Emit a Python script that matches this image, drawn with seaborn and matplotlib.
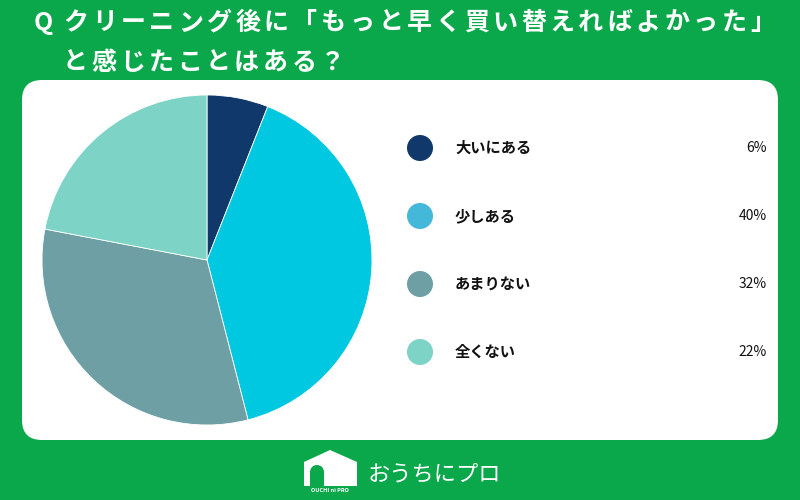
import matplotlib.pyplot as plt
from matplotlib.patches import FancyBboxPatch, Circle, Polygon, Rectangle
import seaborn as sns

# survey answers
labels = ['大いにある', '少しある', 'あまりない', '全くない']
values = [6, 40, 32, 22]
pct_labels = ['6%', '40%', '32%', '22%']
colors = ['#10386a', '#00c8e0', '#6e9fa5', '#7dd3c5']
dot_colors = ['#10386a', '#44b8d8', '#6e9fa5', '#7dd3c5']

title_q = 'Q'
title1 = 'クリーニング後に「もっと早く買い替えればよかった」'
title2 = 'と感じたことはある？'

sns.set_theme(style='white')
plt.rcParams['font.family'] = ['Noto Sans CJK JP', 'DejaVu Sans']

green = '#0aa84a'
fig = plt.figure(figsize=(8, 5), dpi=100, facecolor=green)

# background layer in pixel coordinates
bg = fig.add_axes([0, 0, 1, 1])
bg.set_xlim(0, 800)
bg.set_ylim(500, 0)
bg.axis('off')
bg.add_patch(FancyBboxPatch((22, 80), 756, 360, boxstyle='round,pad=0,rounding_size=20',
                            facecolor='white', edgecolor='none'))

# title with wide letter spacing, one glyph at a time
pitch = 28.6
bg.text(43, 23, title_q, color='white', fontsize=18, fontweight='bold', va='center', ha='center')
for i, ch in enumerate(title1):
    bg.text(76 + i * pitch, 23, ch, color='white', fontsize=18, fontweight='bold',
            va='center', ha='center')
for i, ch in enumerate(title2):
    bg.text(75 + i * pitch, 63, ch, color='white', fontsize=18, fontweight='bold',
            va='center', ha='center')

# legend on the right
ys = [148, 216, 284, 352]
for y, lab, pct, c in zip(ys, labels, pct_labels, dot_colors):
    bg.add_patch(Circle((420, y), 13, facecolor=c, edgecolor='none'))
    bg.text(455, y, lab, fontsize=11, fontweight='bold', color='#111111', va='center', ha='left')
    bg.text(767, y, pct, fontsize=10, color='#111111', va='center', ha='right')

# footer logo
bg.add_patch(Polygon([[304, 492], [304, 462], [330, 450], [357, 462], [357, 492]],
                     closed=True, facecolor='white', edgecolor='none', joinstyle='round'))
bg.add_patch(Rectangle((310, 472), 14, 14, facecolor=green, edgecolor='none'))
bg.add_patch(Circle((317, 472), 7, facecolor=green, edgecolor='none'))
bg.add_patch(Rectangle((304, 486), 53, 8, facecolor=green, edgecolor='none'))
bg.text(330, 491, 'OUCHI ni PRO', fontsize=4, color='white', ha='center', va='center',
        fontweight='bold')
bg.text(368, 474, 'おうちにプロ', fontsize=16, color='white', ha='left', va='center')

# pie chart
ax = fig.add_axes([0.0525, 0.15, 0.4125, 0.66])
ax.pie(values, colors=colors, startangle=90, counterclock=False,
       wedgeprops={'linewidth': 0.6, 'edgecolor': 'white'})
ax.set_xlim(-1, 1)
ax.set_ylim(-1, 1)
ax.axis('off')

fig.savefig('out.png', dpi=100, facecolor=green)
